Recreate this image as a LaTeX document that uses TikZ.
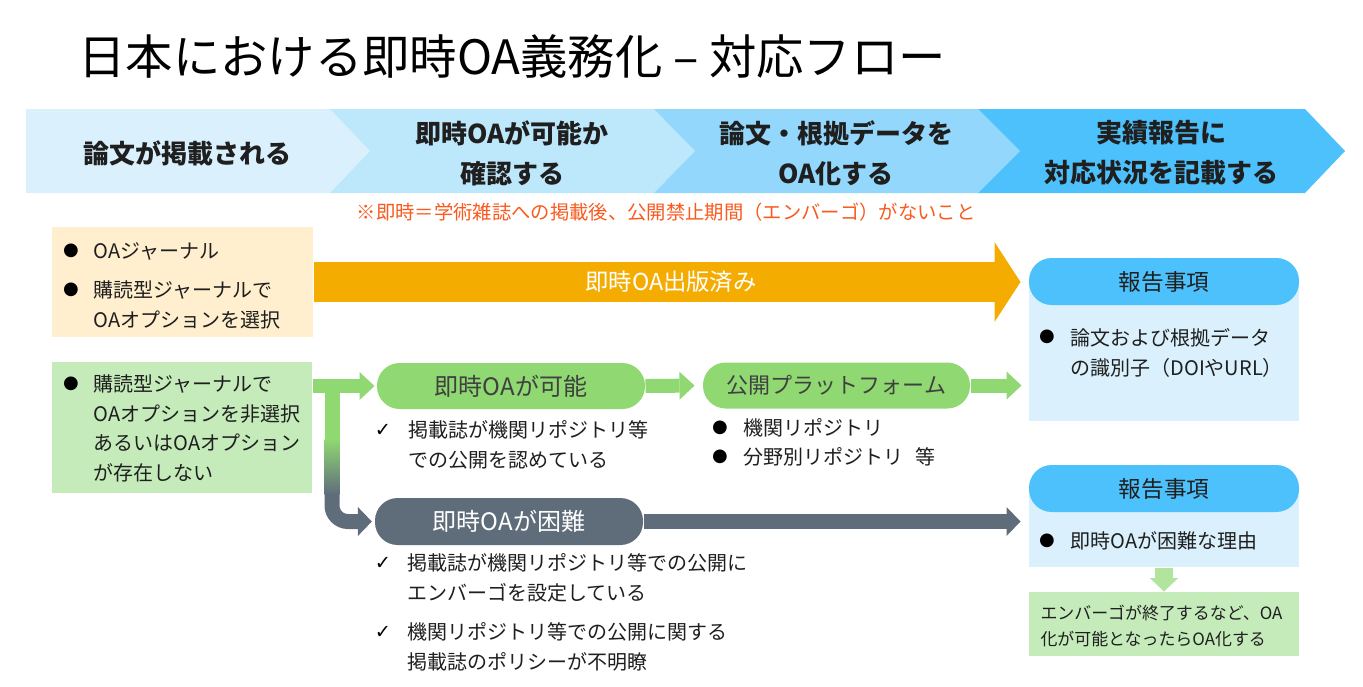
\documentclass[tikz,border=0pt]{standalone}
\usepackage{fontspec}
\setmainfont{Noto Sans CJK JP}
\newfontfamily\markfont{DejaVu Sans}
\usetikzlibrary{arrows.meta,positioning}

\definecolor{stepone}{HTML}{DAF1FD}
\definecolor{steptwo}{HTML}{BDE7FB}
\definecolor{stepthree}{HTML}{93D8FC}
\definecolor{stepfour}{HTML}{4DC1FC}
\definecolor{oaorange}{HTML}{F5AC00}
\definecolor{oaorangebg}{HTML}{FFEFCE}
\definecolor{oagreen}{HTML}{8FD872}
\definecolor{oagreenbg}{HTML}{C5EBBB}
\definecolor{oagray}{HTML}{5F6D7B}
\definecolor{notered}{HTML}{FA5A1E}
\definecolor{pilltext}{HTML}{404040}

\tikzset{every picture/.style={line width=0.75pt}}
\tikzset{
  steplabel/.style={font=\bfseries\fontsize{19.5}{30}\selectfont,align=center,text=black!88,inner sep=0pt},
  itemtext/.style={font=\fontsize{15}{22.5}\selectfont,align=left,anchor=west,inner sep=0pt,text=black!88},
  dotmark/.style={font=\markfont\fontsize{13.5}{13.5}\selectfont,inner sep=0pt,text=black},
  tickmark/.style={font=\markfont\fontsize{14.5}{14.5}\selectfont,inner sep=0pt,text=black},
  pillbox/.style={rounded corners=17pt,minimum width=201pt,minimum height=34.5pt,inner sep=0pt},
  reporthead/.style={fill=stepfour,rounded corners=17pt,minimum width=202.5pt,minimum height=35.25pt,inner sep=0pt,font=\fontsize{17}{17}\selectfont,text=black!88},
  reportbody/.style={fill=stepone,minimum width=202.5pt,inner sep=0pt},
  greenflow/.style={oagreen,line width=10.5pt,-{Triangle[length=11.25pt,width=21pt,line width=0pt]}},
  grayflow/.style={oagray,line width=11.25pt,-{Triangle[length=10.5pt,width=21.75pt,line width=0pt]}},
  orangeflow/.style={oaorange,line width=30pt,-{Triangle[length=19.5pt,width=60pt,line width=0pt]}}
}

\begin{document}
\begin{tikzpicture}[x=0.75pt,y=0.75pt,yscale=-1,xscale=1]
\fill[white] (0,0) rectangle (1363,686);
\useasboundingbox (0,0) rectangle (1363,686);

% Title
\node[anchor=west,inner sep=0pt,font=\fontsize{35.5}{35.5}\selectfont] (title) at (78,56) {日本における即時OA義務化 – 対応フロー};

%Shape: Chevrons
\fill[stepone] (26,109) -- (330,109) -- (370,151) -- (330,193) -- (26,193) -- cycle;
\fill[steptwo] (330,109) -- (654,109) -- (695,151) -- (654,193) -- (330,193) -- (370,151) -- cycle;
\fill[stepthree] (654,109) -- (978,109) -- (1020,151) -- (978,193) -- (654,193) -- (695,151) -- cycle;
\fill[stepfour] (978,109) -- (1305,109) -- (1345,151) -- (1305,193) -- (978,193) -- (1020,151) -- cycle;

% Text Node
\node[steplabel] (lblpublish) at (187,153) {論文が掲載される};
\node[steplabel] (lblcheck) at (512,153) {即時OAが可能か\\確認する};
\node[steplabel] (lblopen) at (836,153) {論文・根拠データを\\OA化する};
\node[steplabel] (lblreport) at (1161,153) {実績報告に\\対応状況を記載する};
\node[inner sep=0pt,text=notered,font=\fontsize{14.5}{14.5}\selectfont] (remark) at (666,212) {※即時＝学術雑誌への掲載後、公開禁止期間（エンバーゴ）がないこと};

%Shape: Case boxes
\node[fill=oaorangebg,minimum width=195.75pt,minimum height=82.5pt,inner sep=0pt] (oabox) at (182.5,282) {};
\node[fill=oagreenbg,minimum width=195pt,minimum height=98.25pt,inner sep=0pt] (subbox) at (182,427.5) {};

% Text Node
\node[dotmark] (oadot1) at (71,251) {●};
\node[itemtext] (oaitem1) at (93,251) {OAジャーナル};
\node[dotmark] (oadot2) at (71,290) {●};
\node[itemtext] (oaitem2) at (93,305) {購読型ジャーナルで\\OAオプションを選択};
\node[dotmark] (subdot) at (71,384) {●};
\node[itemtext,font=\fontsize{15}{22.1}\selectfont] (subitem) at (93,428.5) {購読型ジャーナルで\\OAオプションを非選択\\あるいはOAオプション\\が存在しない};

%Shape: Report boxes
\node[reportbody,minimum height=105pt] (rep1) at (1164,351) {};
\node[reporthead] (rep1head) at (1164,281.5) {報告事項};
\node[reportbody,minimum height=59.25pt] (rep2) at (1164,527.5) {};
\node[reporthead] (rep2head) at (1164,488.5) {報告事項};
\node[fill=oagreenbg,minimum width=202.5pt,minimum height=48pt,inner sep=0pt] (afterbox) at (1164,624) {};

% Text Node
\node[dotmark] (repdot1) at (1047,337) {●};
\node[itemtext] (repitem1) at (1070,352.5) {論文および根拠データ\\の識別子（DOIやURL）};
\node[dotmark] (repdot2) at (1047,541) {●};
\node[itemtext] (repitem2) at (1070,541) {即時OAが困難な理由};
\node[itemtext,font=\fontsize{12.7}{19.5}\selectfont] (afteritem) at (1040,626) {エンバーゴが終了するなど、OA\\化が可能となったらOA化する};

%Shape: Pills
\node[pillbox,fill=oagreen,text=pilltext,font=\fontsize{18}{18}\selectfont] (canoa) at (511,386) {即時OAが可能};
\node[pillbox,fill=oagreen,text=pilltext,font=\fontsize{16.5}{16.5}\selectfont,minimum width=200.25pt] (platform) at (836.5,385.5) {公開プラットフォーム};
\node[pillbox,fill=oagray,text=white,font=\fontsize{18}{18}\selectfont,minimum height=35.25pt] (hardoa) at (509,521.5) {即時OAが困難};

% Text Node
\node[tickmark] (cantick) at (383,430) {✓};
\node[itemtext] (canitem) at (408,445) {掲載誌が機関リポジトリ等\\での公開を認めている};
\node[dotmark] (platdot1) at (720,428) {●};
\node[itemtext] (platitem1) at (743,428) {機関リポジトリ};
\node[dotmark] (platdot2) at (720,457) {●};
\node[itemtext] (platitem2) at (743,457) {分野別リポジトリ\hspace{0.6em}等};
\node[tickmark] (hardtick1) at (383,563) {✓};
\node[itemtext] (harditem1) at (407,578) {掲載誌が機関リポジトリ等での公開に\\エンバーゴを設定している};
\node[tickmark] (hardtick2) at (383,632) {✓};
\node[itemtext] (harditem2) at (407,647) {機関リポジトリ等での公開に関する\\掲載誌のポリシーが不明瞭};

%Arrows
\draw[orangeflow,shorten >=6pt] (oabox.east) -- (rep1head.west |- oabox.east)
  node[midway,text=white,font=\fontsize{17.5}{17.5}\selectfont] (oalabel) {即時OA出版済み};
\draw[greenflow,shorten >=1.5pt] (subbox.east |- canoa.west) -- (canoa.west);
\draw[greenflow,shorten >=6pt] (canoa.east) -- (platform.west);
\draw[greenflow,shorten >=5.25pt] (platform.east) -- (rep1.west |- platform.east);
\draw[grayflow,shorten >=6pt] (hardoa.east) -- (rep2.west |- hardoa.east);
\draw[oagreen!70!white,line width=14pt,-{Triangle[length=10pt,width=21pt,line width=0pt]}] (rep2.south) -- (afterbox.north);

% Branch from green case to hard case
\coordinate (fork) at (332,387);
\coordinate (fadetop) at (332,440);
\coordinate (fadebot) at (332,494);
\draw[oagreen,line width=11.25pt] (fork) -- (fadetop);
\shade[top color=oagreen,bottom color=oagray] (324.5,439.5) rectangle (339.5,494.5);
\draw[grayflow,rounded corners=12pt,shorten >=2pt] (fadebot) |- (hardoa.west);

\end{tikzpicture}
\end{document}
